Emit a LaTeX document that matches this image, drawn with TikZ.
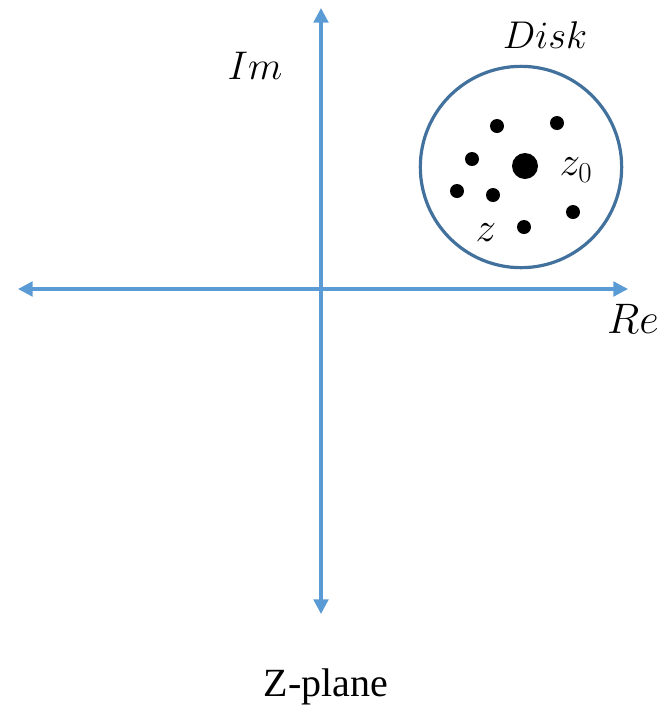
\RequirePackage{fix-cm}
\documentclass[tikz,border=0pt]{standalone}
\usepackage{fontspec}
\setmainfont{Liberation Serif}
\usetikzlibrary{arrows.meta}
\definecolor{axisblue}{HTML}{5B9BD5}
\definecolor{diskblue}{HTML}{41719C}
\tikzset{
axis/.style={draw=axisblue,line width=2.4pt,{Triangle[length=11pt,width=11pt]}-{Triangle[length=11pt,width=11pt]}},
pt/.style={circle,fill=black,inner sep=0pt,minimum size=10.5pt},
lbl/.style={inner sep=0pt,font=\fontsize{30}{36}\selectfont}
}
\begin{document}
\begin{tikzpicture}[x=0.75pt,y=-0.75pt]
\useasboundingbox (0,0) rectangle (659,708);
\coordinate (west) at (18,289);
\coordinate (east) at (628,289);
\coordinate (north) at (321,8);
\coordinate (south) at (321,614);
\draw[axis] (west) -- (east);
\draw[axis] (south) -- (north);
\node[circle,draw=diskblue,line width=2.4pt,minimum size=151pt,inner sep=0pt] (disk) at (521,167) {};
\node[pt,minimum size=19.5pt] (z0) at (525,166) {};
\node[pt] (p1) at (497,126) {};
\node[pt] (p2) at (557,123) {};
\node[pt] (p3) at (472,159) {};
\node[pt] (p4) at (457,191) {};
\node[pt] (p5) at (493,195) {};
\node[pt] (p6) at (573,212) {};
\node[pt] (p7) at (524,227) {};
\node[lbl] (imlabel) at (255,66) {$Im$};
\node[lbl,font=\fontsize{32}{38}\selectfont] (relabel) at (633,319) {$Re$};
\node[lbl,font=\fontsize{29}{34}\selectfont] (disklabel) at (545,35) {$Disk$};
\node[lbl,font=\fontsize{31}{36}\selectfont] (z0label) at (576,170) {$z_{\scriptstyle 0}$};
\node[lbl,font=\fontsize{31}{36}\selectfont] (zlabel) at (486,233) {$z$};
\node[lbl] (caption) at (326,687) {Z-plane};
\end{tikzpicture}
\end{document}
